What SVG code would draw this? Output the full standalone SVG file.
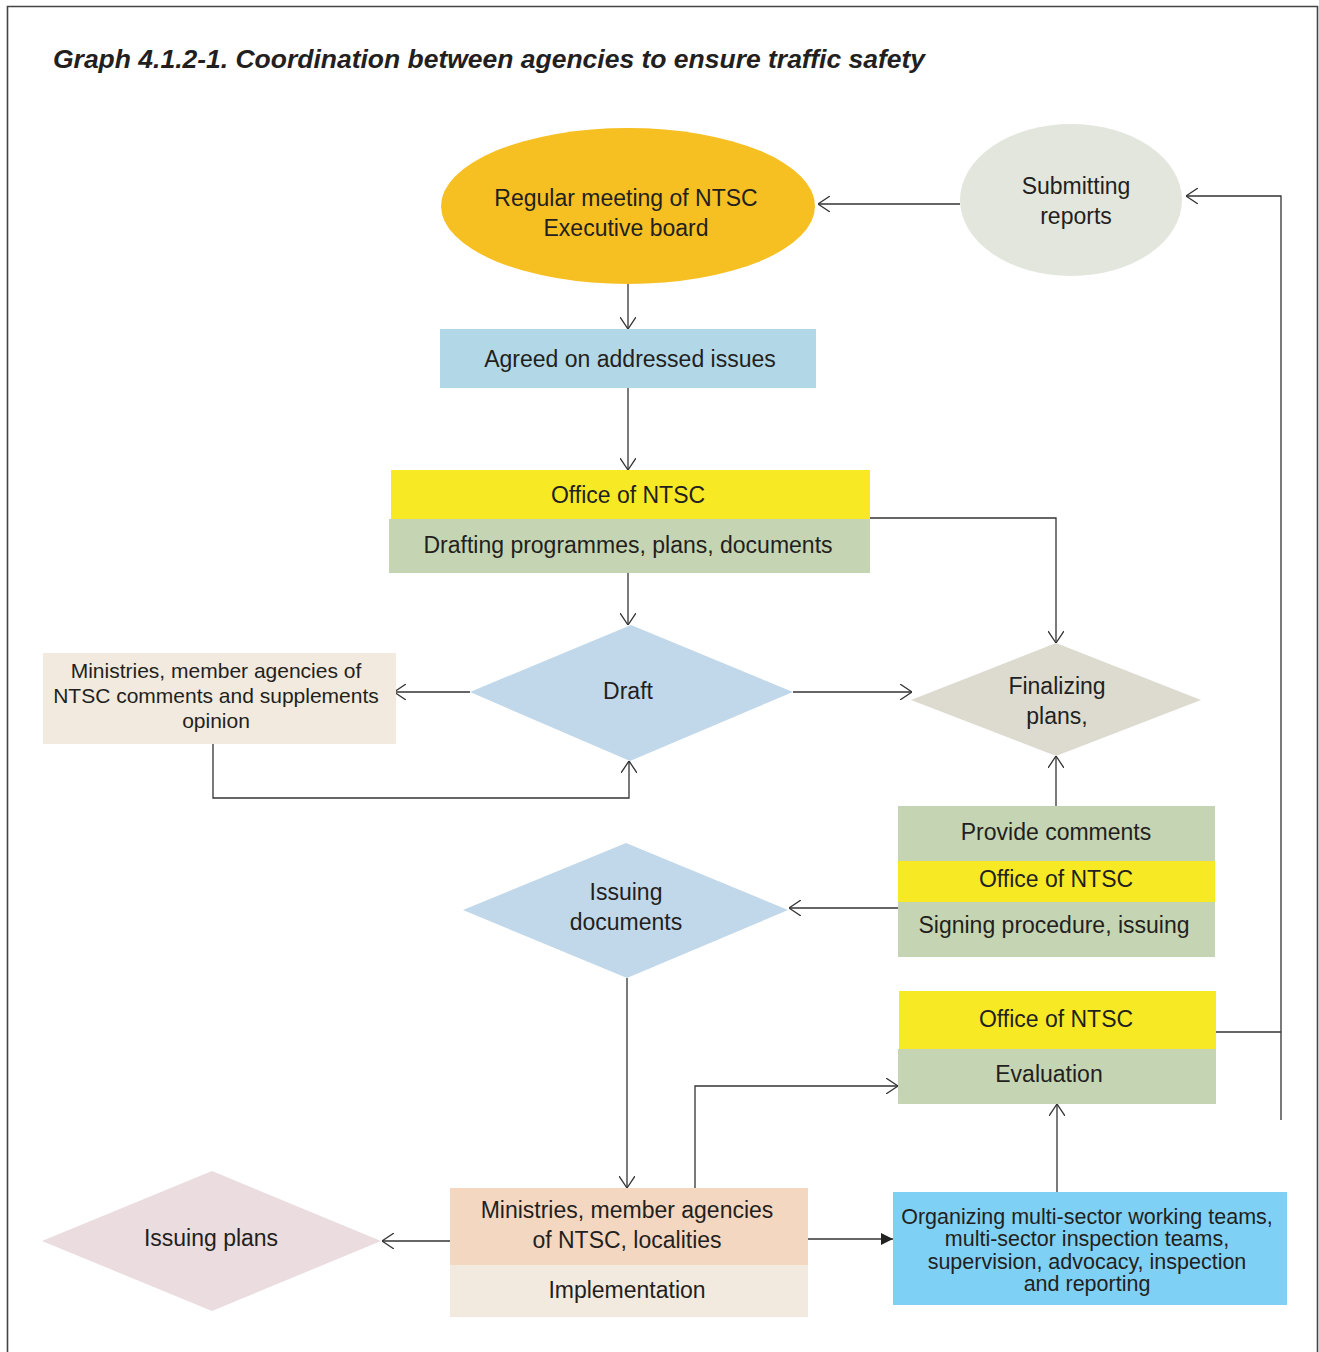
<svg xmlns="http://www.w3.org/2000/svg" width="1319" height="1352" viewBox="0 0 1319 1352">
<defs>
<style>
.t{font-family:"Liberation Sans",Arial,sans-serif;font-size:23px;fill:#231f20;text-anchor:middle}
.s{font-size:21px}
.b{font-size:21.5px}
.c{fill:none;stroke:#333;stroke-width:1.3}
.o{marker-end:url(#open)}
.f{marker-end:url(#fill)}
</style>
<marker id="open" viewBox="0 0 12 16" refX="12" refY="8" markerWidth="12" markerHeight="16" markerUnits="userSpaceOnUse" orient="auto">
<path d="M0,0 L12,8 L0,16" fill="none" stroke="#333" stroke-width="1.3"/>
</marker>
<marker id="fill" viewBox="0 0 12 12" refX="12" refY="6" markerWidth="12" markerHeight="12" markerUnits="userSpaceOnUse" orient="auto">
<path d="M0,0 L12,6 L0,12 Z" fill="#222"/>
</marker>
</defs>
<rect width="1319" height="1352" fill="#fff"/>
<path d="M7.5,1352 V6.5 H1317.5 V1352" fill="none" stroke="#444" stroke-width="1.6"/>
<text x="53" y="68" font-family="Liberation Sans,Arial,sans-serif" font-size="26" font-weight="bold" font-style="italic" fill="#231f20" textLength="872" lengthAdjust="spacingAndGlyphs">Graph 4.1.2-1. Coordination between agencies to ensure traffic safety</text>

<g id="connectors">
<path class="c o" d="M960,204 H818"/>
<path class="c" d="M1216,1032 H1281"/>
<path class="c o" d="M1281,1120 V196 H1186"/>
<path class="c o" d="M628,284 V329"/>
<path class="c o" d="M628,388 V470"/>
<path class="c o" d="M870,518 H1056 V643"/>
<path class="c o" d="M628,573 V625"/>
<path class="c o" d="M470,692 H394"/>
<path class="c o" d="M213,744 V798 H629 V761"/>
<path class="c o" d="M793,692 H912"/>
<path class="c o" d="M1056,806 V756"/>
<path class="c o" d="M898,908 H789"/>
<path class="c o" d="M627,978 V1188"/>
<path class="c o" d="M695,1188 V1086 H898"/>
<path class="c o" d="M450,1241 H382"/>
<path class="c f" d="M808,1239 H893"/>
<path class="c o" d="M1057,1192 V1104"/>
</g>

<g id="regular-meeting">
<ellipse cx="628" cy="206" rx="187" ry="78" fill="#F6BF22"/>
<text class="t" x="626" y="206">Regular meeting of NTSC</text>
<text class="t" x="626" y="236">Executive board</text>
</g>

<g id="submitting-reports">
<ellipse cx="1071" cy="200" rx="111" ry="76" fill="#E3E6DD"/>
<text class="t" x="1076" y="194">Submitting</text>
<text class="t" x="1076" y="224">reports</text>
</g>

<g id="agreed">
<rect x="440" y="329" width="376" height="59" fill="#B2D8E8"/>
<text class="t" x="630" y="367">Agreed on addressed issues</text>
</g>

<g id="office-drafting">
<rect x="391" y="470" width="479" height="49" fill="#F7EA25"/>
<rect x="389" y="519" width="481" height="54" fill="#C5D5B3"/>
<text class="t" x="628" y="503">Office of NTSC</text>
<text class="t" x="628" y="553">Drafting programmes, plans, documents</text>
</g>

<g id="draft">
<polygon points="470,692 631,625 793,692 630,761" fill="#C1D8EA"/>
<text class="t" x="628" y="699">Draft</text>
</g>

<g id="ministries-comments">
<rect x="43" y="653" width="353" height="91" fill="#F2EADF"/>
<text class="t s" x="216" y="678">Ministries, member agencies of</text>
<text class="t s" x="216" y="703">NTSC comments and supplements</text>
<text class="t s" x="216" y="728">opinion</text>
</g>

<g id="finalizing">
<polygon points="911,700 1056,643 1201,700 1056,756" fill="#DDDBD0"/>
<text class="t" x="1057" y="694">Finalizing</text>
<text class="t" x="1057" y="724">plans,</text>
</g>

<g id="provide-signing">
<rect x="898" y="806" width="317" height="55" fill="#C5D5B3"/>
<rect x="898" y="861" width="317" height="41" fill="#F7EA25"/>
<rect x="898" y="902" width="317" height="55" fill="#C5D5B3"/>
<text class="t" x="1056" y="840">Provide comments</text>
<text class="t" x="1056" y="887">Office of NTSC</text>
<text class="t" x="1054" y="933">Signing procedure, issuing</text>
</g>

<g id="issuing-documents">
<polygon points="463,910 626,843 788,910 627,978" fill="#C1D8EA"/>
<text class="t" x="626" y="900">Issuing</text>
<text class="t" x="626" y="930">documents</text>
</g>

<g id="evaluation">
<rect x="899" y="991" width="317" height="58" fill="#F7EA25"/>
<rect x="898" y="1049" width="318" height="55" fill="#C5D5B3"/>
<text class="t" x="1056" y="1027">Office of NTSC</text>
<text class="t" x="1049" y="1082">Evaluation</text>
</g>

<g id="implementation">
<rect x="450" y="1188" width="358" height="77" fill="#F3D7C1"/>
<rect x="450" y="1265" width="358" height="52" fill="#F2EADF"/>
<text class="t" x="627" y="1218">Ministries, member agencies</text>
<text class="t" x="627" y="1248">of NTSC, localities</text>
<text class="t" x="627" y="1298">Implementation</text>
</g>

<g id="issuing-plans">
<polygon points="42,1241 212,1171 381,1241 212,1311" fill="#EADCDF"/>
<text class="t" x="211" y="1246">Issuing plans</text>
</g>

<g id="organizing">
<rect x="893" y="1192" width="394" height="113" fill="#7ED0F4"/>
<text class="t b" x="1087" y="1224">Organizing multi-sector working teams,</text>
<text class="t b" x="1087" y="1246">multi-sector inspection teams,</text>
<text class="t b" x="1087" y="1269">supervision, advocacy, inspection</text>
<text class="t b" x="1087" y="1291">and reporting</text>
</g>
</svg>
